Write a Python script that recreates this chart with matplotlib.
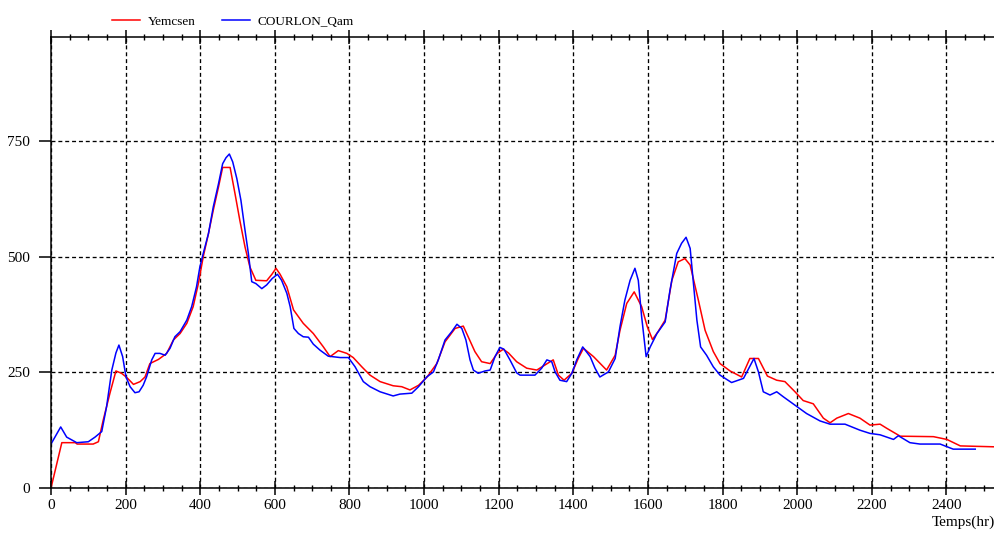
import numpy as np
import matplotlib
matplotlib.use('Agg')
import matplotlib.pyplot as plt
from matplotlib.ticker import MultipleLocator

plt.rcParams['font.family'] = ['Liberation Serif', 'DejaVu Serif']

# Yemcsen (red)
t_red = [0, 29, 65, 70, 113, 127, 140, 158, 174, 189,
         203, 221, 239, 252, 265, 288, 310, 328, 346, 364,
         381, 395, 408, 422, 435, 449, 460, 480, 493, 506,
         520, 533, 549, 578, 592, 603, 614, 632, 650, 676,
         703, 730, 748, 770, 793, 810, 833, 855, 882, 917,
         940, 962, 985, 1007, 1034, 1056, 1083, 1105, 1118, 1136,
         1154, 1177, 1196, 1212, 1226, 1248, 1275, 1302, 1324, 1346,
         1360, 1375, 1396, 1413, 1427, 1454, 1489, 1512, 1525, 1543,
         1563, 1583, 1598, 1612, 1627, 1646, 1664, 1681, 1699, 1713,
         1735, 1753, 1775, 1793, 1820, 1851, 1873, 1896, 1920, 1945,
         1967, 1994, 2016, 2043, 2070, 2088, 2106, 2137, 2168, 2195,
         2222, 2240, 2276, 2365, 2401, 2437, 2530]
q_red = [0, 98, 98, 95, 95, 100, 147, 205, 253, 248,
         239, 224, 230, 240, 269, 278, 291, 320, 334, 356,
         392, 442, 500, 550, 601, 651, 693, 693, 637, 579,
         521, 478, 449, 448, 462, 475, 462, 435, 385, 356,
         334, 305, 284, 297, 291, 282, 262, 244, 230, 221,
         219, 212, 222, 239, 269, 316, 345, 350, 327, 295,
         273, 269, 291, 300, 292, 273, 259, 255, 266, 277,
         244, 233, 248, 280, 302, 284, 255, 287, 341, 399,
         424, 392, 349, 321, 338, 363, 449, 489, 496, 482,
         406, 341, 295, 269, 253, 240, 280, 280, 242, 233,
         230, 208, 189, 182, 151, 141, 151, 161, 151, 136,
         138, 129, 112, 111, 105, 91, 89]

# COURLON_Qam (blue)
t_blue = [0, 26, 42, 69, 100, 118, 136, 149, 163, 174,
          182, 192, 201, 212, 225, 236, 247, 256, 270, 279,
          292, 306, 319, 332, 346, 364, 377, 390, 399, 408,
          422, 435, 449, 460, 469, 478, 487, 498, 509, 520,
          529, 538, 549, 565, 578, 593, 607, 618, 632, 641,
          651, 663, 676, 690, 703, 721, 743, 775, 797, 815,
          837, 855, 882, 917, 935, 967, 985, 1007, 1025, 1038,
          1056, 1074, 1088, 1101, 1112, 1123, 1132, 1145, 1163, 1177,
          1190, 1203, 1214, 1230, 1248, 1257, 1297, 1315, 1329, 1342,
          1351, 1364, 1382, 1396, 1409, 1425, 1445, 1458, 1471, 1494,
          1512, 1525, 1538, 1552, 1565, 1574, 1583, 1595, 1606, 1624,
          1646, 1659, 1677, 1690, 1702, 1713, 1726, 1731, 1741, 1757,
          1775, 1793, 1824, 1856, 1884, 1896, 1909, 1927, 1945, 1963,
          1994, 2025, 2061, 2088, 2128, 2168, 2195, 2222, 2258, 2271,
          2302, 2329, 2383, 2418, 2477]
q_blue = [95, 132, 110, 98, 100, 110, 122, 176, 255, 292,
          309, 284, 240, 219, 206, 208, 222, 240, 277, 291,
          291, 287, 302, 327, 338, 363, 392, 435, 478, 507,
          550, 608, 658, 701, 714, 722, 705, 669, 622, 557,
          507, 446, 442, 431, 439, 453, 462, 449, 421, 392,
          345, 334, 327, 326, 311, 298, 285, 282, 282, 262,
          230, 219, 208, 199, 203, 205, 219, 240, 251, 277,
          320, 338, 354, 345, 320, 277, 255, 248, 253, 255,
          284, 304, 300, 277, 249, 244, 244, 259, 277, 273,
          251, 233, 230, 248, 277, 305, 284, 259, 240, 251,
          280, 349, 406, 449, 475, 449, 370, 284, 305, 334,
          359, 428, 507, 529, 542, 518, 406, 363, 305, 287,
          262, 244, 228, 237, 280, 251, 208, 201, 208, 197,
          179, 161, 145, 138, 138, 125, 118, 115, 105, 113,
          98, 95, 95, 84, 84]

y_ticks = [0, 250, 500, 750]

fig = plt.figure(figsize=(9.95, 5.36), dpi=100)
ax = fig.add_axes([51/995, 1 - 488/536, 1 - 51/995, (488 - 37)/536])

ax.plot(t_red, q_red, color='#ff0000', lw=1.1, label='Yemcsen')
ax.plot(t_blue, q_blue, color='#0000ff', lw=1.1, label='COURLON_Qam')

ax.set_xlim(0, 2530)
ax.set_ylim(0, 975)
ax.xaxis.set_major_locator(MultipleLocator(200))
ax.xaxis.set_minor_locator(MultipleLocator(50))
ax.set_yticks(y_ticks)

# dashed grid like the original
ax.grid(True, which='major', color='black', linestyle=(0, (3, 2.2)), lw=0.95)
ax.set_axisbelow(True)

ax.spines['right'].set_visible(False)
for s in ['left', 'bottom', 'top']:
    ax.spines[s].set_linewidth(1.1)

ax.tick_params(axis='x', which='major', direction='inout', length=10, width=1.1,
               top=True, labelsize=11, pad=3)
ax.tick_params(axis='x', which='minor', direction='inout', length=5, width=1.0, top=True)
ax.tick_params(axis='y', which='major', direction='out', length=9, width=1.1,
               labelsize=11, pad=6)

fig.text(1.0, 1 - 522/536, 'Temps(hr)', ha='right', va='center', fontsize=11)

fig.legend(loc='center left', bbox_to_anchor=(112/995, 1 - 22/536), ncol=2,
           frameon=False, fontsize=9.5, handlelength=2.1, handletextpad=0.6,
           columnspacing=2.0, borderpad=0, borderaxespad=0)

fig.savefig('out.png', dpi=100)
